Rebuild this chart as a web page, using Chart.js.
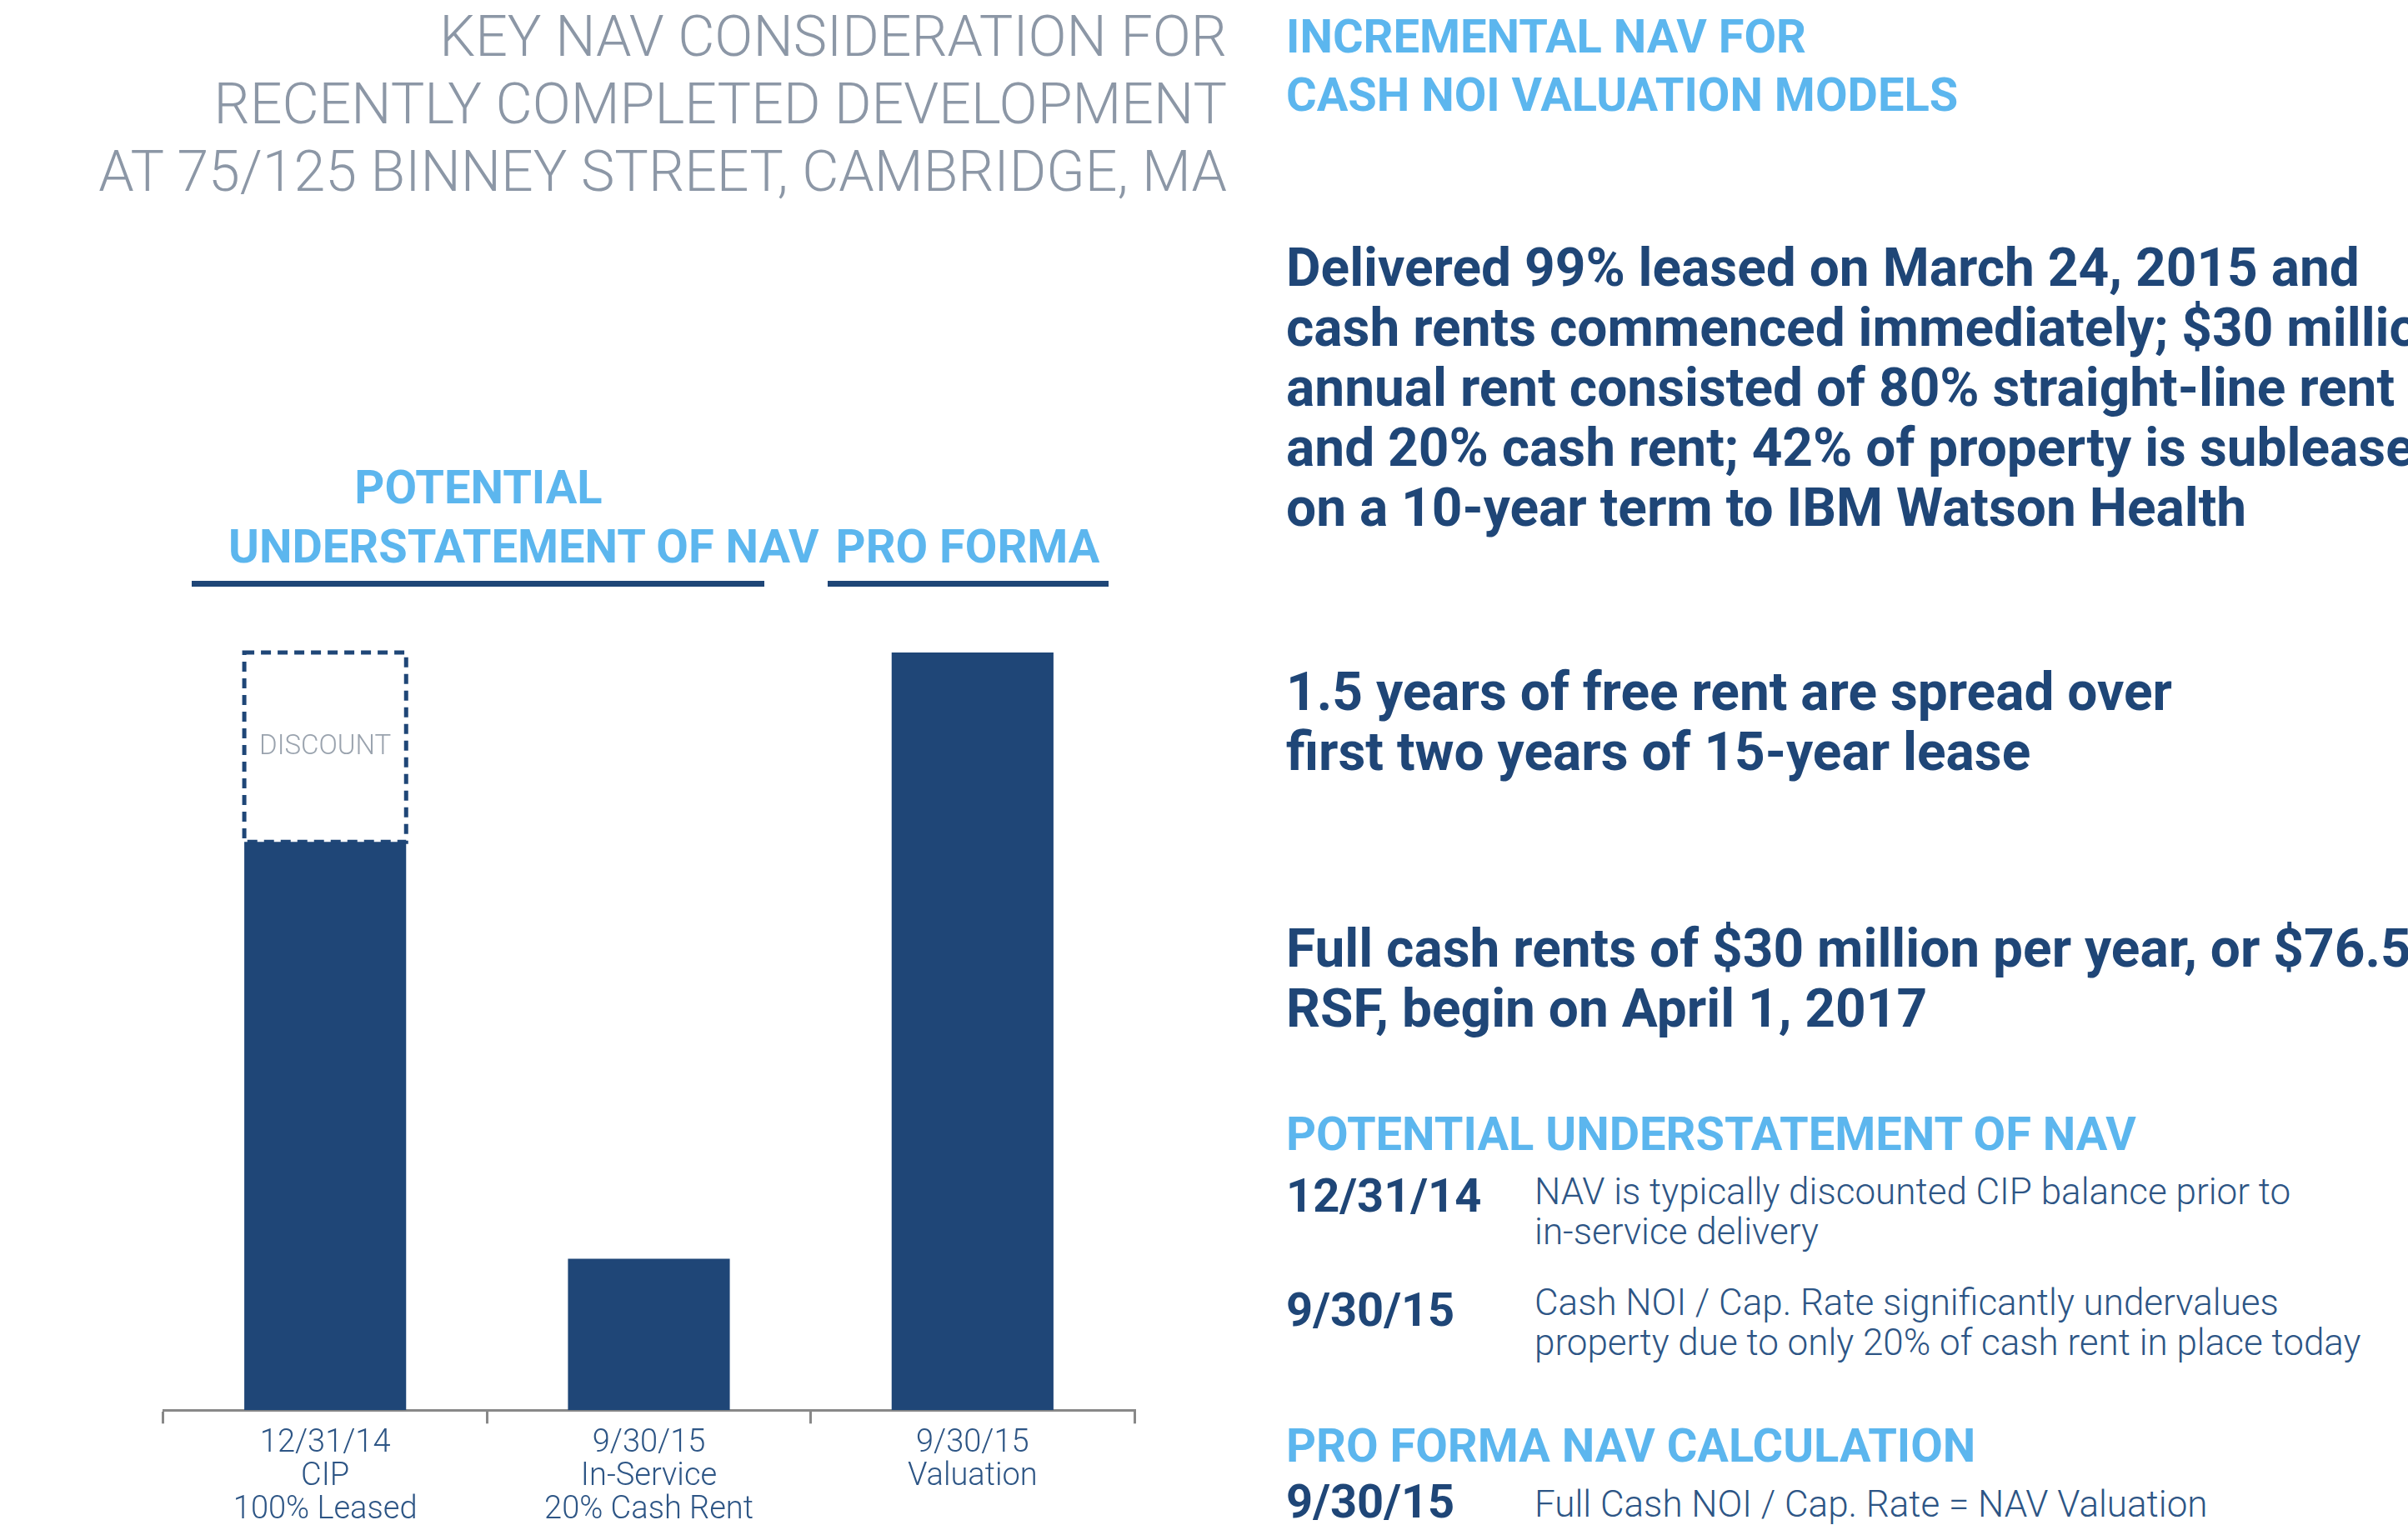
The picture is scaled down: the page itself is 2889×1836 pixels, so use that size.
<!DOCTYPE html>
<html>
<head>
<meta charset="utf-8">
<script src="https://cdn.jsdelivr.net/npm/chart.js@4"></script>
<style>
  body { margin: 0; width: 2889px; height: 1836px; background: #fff; position: relative; overflow: hidden; }
  .t { position: absolute; white-space: nowrap; }
  .title { right: calc(2889px - 1472px); text-align: right; font-family: "Roboto", sans-serif; font-weight: 300; font-size: 68px; line-height: 81px; color: #8c97a6; }
  .cond { font-family: "Liberation Sans Narrow", "Roboto", sans-serif; font-weight: bold; }
  .hdr { color: #5cb6ee; font-size: 56px; line-height: 70px; }
  .body { color: #1f4677; font-size: 64px; line-height: 72px; }
  .lite { font-family: "Roboto", sans-serif; font-weight: 300; color: #2d5585; font-size: 44px; line-height: 48px; }
  #wrap { position: absolute; left: 0; top: 700px; width: 1400px; height: 1136px; }
</style>
</head>
<body>
<div class="t title" style="top:4px">KEY NAV CONSIDERATION FOR<br>RECENTLY COMPLETED DEVELOPMENT<br>AT 75/125 BINNEY STREET, CAMBRIDGE, MA</div>

<div class="t cond hdr" style="left:1543px;top:9px">INCREMENTAL NAV FOR<br>CASH NOI VALUATION MODELS</div>

<div class="t cond body" style="left:1543px;top:286px">Delivered 99% leased on March 24, 2015 and<br>cash rents commenced immediately; $30 million<br>annual rent consisted of 80% straight-line rent<br>and 20% cash rent; 42% of property is subleased<br>on a 10-year term to IBM Watson Health</div>
<div class="t cond body" style="left:1543px;top:795px">1.5 years of free rent are spread over<br>first two years of 15-year lease</div>
<div class="t cond body" style="left:1543px;top:1103px">Full cash rents of $30 million per year, or $76.50 per<br>RSF, begin on April 1, 2017</div>

<div class="t cond hdr" style="left:1543px;top:1326px">POTENTIAL UNDERSTATEMENT OF NAV</div>
<div class="t cond body" style="left:1543px;top:1405px;font-size:56px;line-height:60px">12/31/14</div>
<div class="t lite" style="left:1841px;top:1406px">NAV is typically discounted CIP balance prior to<br>in-service delivery</div>
<div class="t cond body" style="left:1543px;top:1542px;font-size:56px;line-height:60px">9/30/15</div>
<div class="t lite" style="left:1841px;top:1539px">Cash NOI / Cap. Rate significantly undervalues<br>property due to only 20% of cash rent in place today</div>

<div class="t cond hdr" style="left:1543px;top:1700px">PRO FORMA NAV CALCULATION</div>
<div class="t cond body" style="left:1543px;top:1772px;font-size:56px;line-height:60px">9/30/15</div>
<div class="t lite" style="left:1841px;top:1781px">Full Cash NOI / Cap. Rate = NAV Valuation</div>

<div class="t cond hdr" style="left:274px;width:600px;text-align:center;top:550px;line-height:71px">POTENTIAL<br>UNDERSTATEMENT OF NAV</div>
<div class="t cond hdr" style="left:961px;width:400px;text-align:center;top:621px">PRO FORMA</div>
<div class="t" style="left:230px;top:697px;width:687px;height:7px;background:#1f4677"></div>
<div class="t" style="left:993px;top:697px;width:337px;height:7px;background:#1f4677"></div>

<div id="wrap"><canvas id="c"></canvas></div>

<script>
const categories = [["12/31/14", "CIP", "100% Leased"], ["9/30/15", "In-Service", "20% Cash Rent"], ["9/30/15", "Valuation"]];
const navValues = [75, 20, 100];
const discountValues = [25, 0, 0];

const discountBox = {
  id: "discountBox",
  afterDatasetsDraw(chart) {
    const ctx = chart.ctx;
    chart.getDatasetMeta(1).data.forEach((bar, i) => {
      if (!discountValues[i]) return;
      ctx.save();
      ctx.setLineDash([12, 8]);
      ctx.lineWidth = 5;
      ctx.strokeStyle = "#1f4677";
      ctx.strokeRect(bar.x - bar.width / 2, bar.y, bar.width, bar.base - bar.y);
      ctx.fillStyle = "#9aa3ae";
      ctx.font = "300 33px Roboto";
      ctx.textAlign = "center";
      ctx.textBaseline = "middle";
      ctx.fillText("DISCOUNT", bar.x, bar.y + (bar.base - bar.y) / 2);
      ctx.restore();
    });
  },
};

new Chart(document.getElementById("c"), {
  type: "bar",
  data: {
    labels: categories,
    datasets: [
      { data: navValues, backgroundColor: "#1f4677", barPercentage: 0.5, categoryPercentage: 1 },
      { data: discountValues, backgroundColor: "rgba(0,0,0,0)", barPercentage: 0.5, categoryPercentage: 1 },
    ],
  },
  options: {
    responsive: true,
    maintainAspectRatio: false,
    animation: false,
    layout: { padding: { left: 196, right: 39, top: 83, bottom: 0 } },
    plugins: { legend: { display: false }, tooltip: { enabled: false } },
    scales: {
      x: {
        stacked: true,
        border: { color: "#888", width: 3 },
        grid: { offset: true, drawOnChartArea: false, color: "#888", lineWidth: 3, tickLength: 16 },
        ticks: { color: "#2d5585", font: { family: "Roboto", size: 38, weight: 300, lineHeight: 1.05 }, padding: 4, maxRotation: 0 },
      },
      y: { stacked: true, display: false, min: 0, max: 100 },
    },
  },
  plugins: [discountBox],
});
</script>
</body>
</html>
